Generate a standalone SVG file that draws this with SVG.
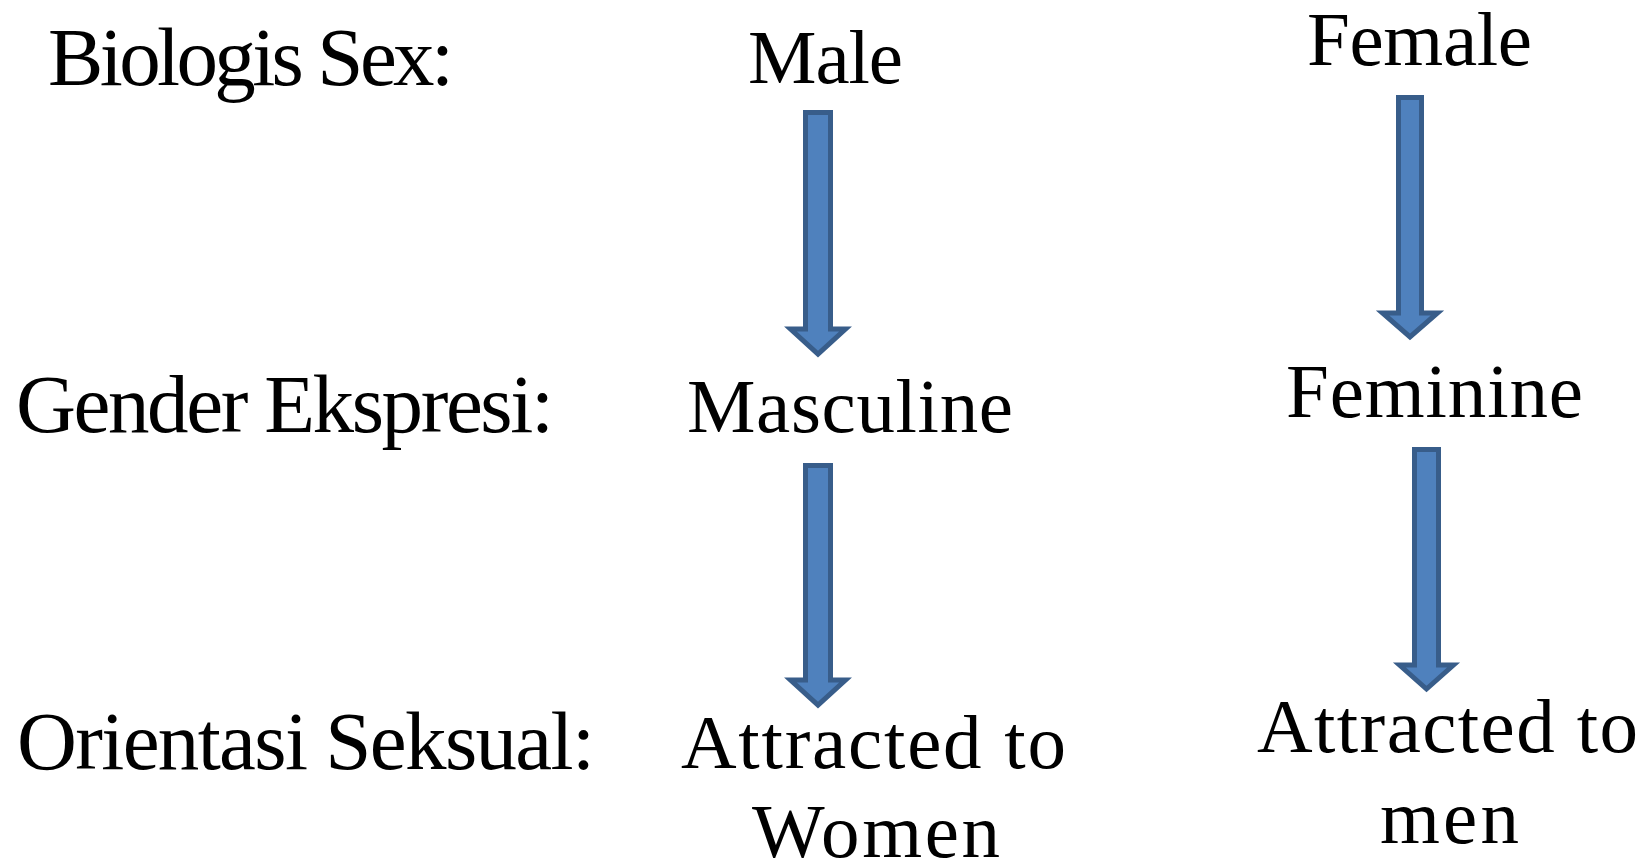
<svg xmlns="http://www.w3.org/2000/svg" width="1650" height="860" viewBox="0 0 1650 860">
<style>
.t{font-family:"Liberation Serif","Times New Roman",serif;fill:#000;}
.lbl{font-size:83px;}
.val{font-size:77px;}
.arr{fill:#4F81BD;stroke:#385D8A;stroke-width:5;stroke-linejoin:miter;stroke-miterlimit:10;}
</style>
<rect width="1650" height="860" fill="#fff"/>
<g id="labels">
<text id="lbl-bio" class="t lbl" x="48" y="85" textLength="406" lengthAdjust="spacing">Biologis Sex:</text>
<text id="lbl-gender" class="t lbl" x="16" y="432" textLength="538" lengthAdjust="spacing">Gender Ekspresi:</text>
<text id="lbl-orient" class="t lbl" x="17" y="769" textLength="578" lengthAdjust="spacing">Orientasi Seksual:</text>
</g>
<g id="male"><text class="t val" x="748" y="83" textLength="155" lengthAdjust="spacing">Male</text></g>
<g id="female"><text class="t val" x="1307" y="65" textLength="225" lengthAdjust="spacing">Female</text></g>
<g id="masculine"><text class="t val" x="687" y="432" textLength="326" lengthAdjust="spacing">Masculine</text></g>
<g id="feminine"><text class="t val" x="1286" y="417" textLength="297" lengthAdjust="spacing">Feminine</text></g>
<g id="attracted-women">
<text class="t val" x="681" y="768" textLength="385" lengthAdjust="spacing">Attracted to</text>
<text class="t val" x="752" y="857" textLength="248" lengthAdjust="spacing">Women</text>
</g>
<g id="attracted-men">
<text class="t val" x="1257" y="752" textLength="381" lengthAdjust="spacing">Attracted to</text>
<text class="t val" x="1380" y="843" textLength="139" lengthAdjust="spacing">men</text>
</g>
<g id="connectors">
<path class="arr" d="M805.5,112.5 H830.5 V329 H845.5 L818,354 L790.5,329 H805.5 Z"/>
<path class="arr" d="M1398.5,97.5 H1421.5 V313 H1437.5 L1410,337 L1382.5,313 H1398.5 Z"/>
<path class="arr" d="M805.5,465.5 H830.5 V680 H845.5 L818,705 L790.5,680 H805.5 Z"/>
<path class="arr" d="M1414.5,449.5 H1438.5 V665 H1453.5 L1426.5,689 L1399.5,665 H1414.5 Z"/>
</g>
</svg>
